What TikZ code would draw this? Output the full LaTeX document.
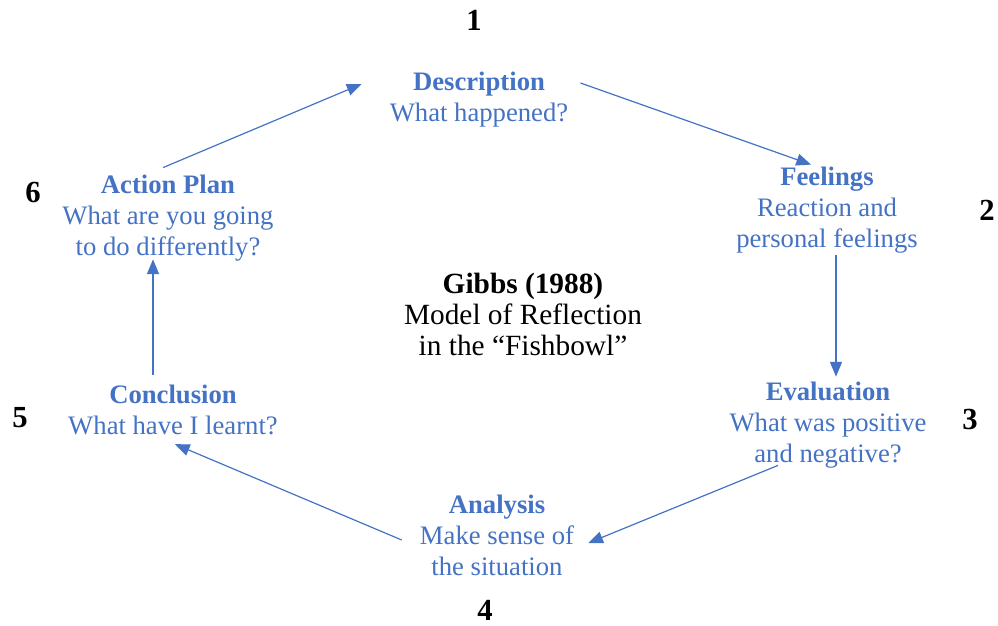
\documentclass[tikz,border=0pt]{standalone}
\usepackage{fontspec}
\setmainfont{Liberation Serif}
\usetikzlibrary{arrows.meta}
\definecolor{gibbsblue}{HTML}{4472C4}
\tikzset{
  stage/.style={text=gibbsblue, align=center, inner sep=0pt, font=\fontsize{20}{23.25}\selectfont},
  centre/.style={align=center, inner sep=0pt, font=\fontsize{22}{23.25}\selectfont},
  num/.style={font=\fontsize{23}{24}\selectfont\bfseries},
  cyc/.style={-{Triangle[length=11pt,width=9pt]}, draw=gibbsblue, line width=0.9pt}
}
\begin{document}
\begin{tikzpicture}[x=0.75pt,y=-0.75pt]
            \useasboundingbox (0,0) rectangle (998,625);
            \node[stage] (descr) at (479,100) {\textbf{Description}\\What happened?};
            \node[stage] (feel) at (827,210) {\textbf{Feelings}\\Reaction and\\personal feelings};
            \node[stage] (eval) at (828,425) {\textbf{Evaluation}\\What was positive\\and negative?};
            \node[stage] (anal) at (497,535) {\textbf{Analysis}\\Make sense of\\the situation};
            \node[stage] (concl) at (173,410) {\textbf{Conclusion}\\What have I learnt?};
            \node[stage] (act) at (168,218) {\textbf{Action Plan}\\What are you going\\to do differently?};
            \node[centre] (gibbs) at (523,314) {\textbf{Gibbs (1988)}\\Model of Reflection\\in the “Fishbowl”};
            \node[num] (n1) at (474,20) {1};
            \node[num] (n2) at (987,210) {2};
            \node[num] (n3) at (970,419) {3};
            \node[num] (n4) at (485,610) {4};
            \node[num] (n5) at (20,418) {5};
            \node[num] (n6) at (33,192) {6};
            \draw[cyc] ([shift={(-5,-7)}]act.north) -- ([shift={(-28,-16)}]descr.west);
            \draw[cyc] ([shift={(12,-17)}]descr.east) -- ([shift={(-16,-2)}]feel.north);
            \draw[cyc] ([shift={(9,2)}]feel.south) -- ([shift={(8,-5)}]eval.north);
            \draw[cyc] ([shift={(-50,-3)}]eval.south) -- ([shift={(14,8)}]anal.east);
            \draw[cyc] ([shift={(-18,5)}]anal.west) -- ([shift={(2,9)}]concl.south);
            \draw[cyc] ([shift={(-20,-10)}]concl.north) -- ([shift={(-15,-2)}]act.south);
        \end{tikzpicture}
\end{document}
